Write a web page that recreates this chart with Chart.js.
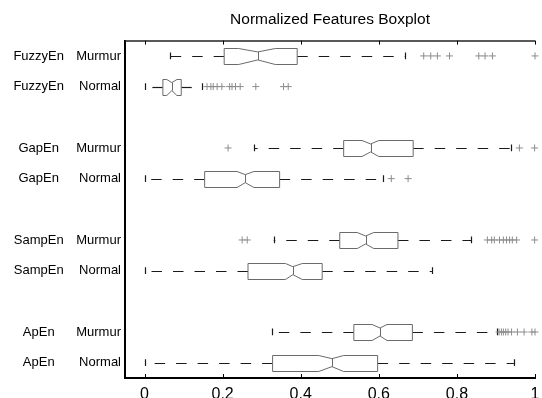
<!DOCTYPE html>
<html>
<head>
<meta charset="utf-8">
<script src="https://cdn.jsdelivr.net/npm/chart.js@4.4.0/dist/chart.umd.min.js"></script>
<style>
  html, body { margin: 0; padding: 0; background: #ffffff; }
  #wrap { width: 542px; height: 398px; }
</style>
</head>
<body>
<div id="wrap"><canvas id="c" width="542" height="398"></canvas></div>
<script>
// ---- data ----
const chartTitle = 'Normalized Features Boxplot';
const features = ['FuzzyEn', 'FuzzyEn', 'GapEn', 'GapEn', 'SampEn', 'SampEn', 'ApEn', 'ApEn'];
const classes = ['Murmur', 'Normal', 'Murmur', 'Normal', 'Murmur', 'Normal', 'Murmur', 'Normal'];
const rowPos = [1, 2, 4, 5, 7, 8, 10, 11];
const whiskerLow = [0.064, 0.0, 0.281, 0.0, 0.331, 0.0, 0.327, 0.0];
const q1 = [0.204, 0.047, 0.510, 0.154, 0.500, 0.265, 0.536, 0.328];
const median = [0.290, 0.070, 0.579, 0.258, 0.566, 0.380, 0.603, 0.480];
const q3 = [0.391, 0.094, 0.688, 0.346, 0.649, 0.455, 0.686, 0.597];
const whiskerHigh = [0.667, 0.147, 0.938, 0.612, 0.837, 0.736, 0.903, 0.946];
const notchLo = [0.241, 0.057, 0.557, 0.237, 0.545, 0.361, 0.583, 0.446];
const notchHi = [0.335, 0.083, 0.600, 0.280, 0.587, 0.404, 0.621, 0.510];
const outliersFuzzyMurmur = [0.715, 0.733, 0.750, 0.781, 0.856, 0.872, 0.891, 1.0];
const outliersFuzzyNormal = [0.160, 0.170, 0.176, 0.186, 0.198, 0.218, 0.224, 0.233, 0.245, 0.285, 0.356, 0.368];
const outliersGapMurmur = [0.214, 0.960, 0.999];
const outliersGapNormal = [0.632, 0.675];
const outliersSampMurmur = [0.250, 0.263, 0.878, 0.889, 0.896, 0.909, 0.919, 0.927, 0.935, 0.942, 0.953, 0.999];
const outliersSampNormal = [];
const outliersApMurmur = [0.908, 0.914, 0.919, 0.925, 0.931, 0.940, 0.955, 0.972, 0.992, 1.0];
const outliersApNormal = [];
const outliers = [outliersFuzzyMurmur, outliersFuzzyNormal, outliersGapMurmur, outliersGapNormal,
                  outliersSampMurmur, outliersSampNormal, outliersApMurmur, outliersApNormal];
const xTickValues = [0, 0.2, 0.4, 0.6, 0.8, 1];

// ---- styling ----
const FONT = "'Liberation Sans', Arial, Helvetica, sans-serif";
const BOX_COLOR = '#6a6a6a';
const WHISKER_COLOR = '#1a1a1a';
const OUTLIER_COLOR = '#8c8c8c';
const BOX_HALF = 0.26;   // in y units
const CAP_HALF = 0.11;

const outlierPoints = [];
outliers.forEach((arr, i) => arr.forEach(v => outlierPoints.push({ x: v, y: rowPos[i] })));

const boxPlugin = {
  id: 'boxes',
  beforeDatasetsDraw(chart) {
    const ctx = chart.ctx;
    const xs = chart.scales.x, ys = chart.scales.y;
    const X = v => xs.getPixelForValue(v);
    ctx.save();
    for (let i = 0; i < rowPos.length; i++) {
      const yc = ys.getPixelForValue(rowPos[i]);
      const h = Math.abs(ys.getPixelForValue(rowPos[i] + BOX_HALF) - yc);
      const hc = Math.abs(ys.getPixelForValue(rowPos[i] + CAP_HALF) - yc);
      const yr = Math.round(yc) + 0.5;
      // whiskers (dashed, starting at box edge)
      ctx.strokeStyle = WHISKER_COLOR;
      ctx.lineWidth = 1.2;
      ctx.setLineDash([10.5, 11]);
      ctx.beginPath();
      ctx.moveTo(X(q3[i]), yr); ctx.lineTo(X(whiskerHigh[i]), yr);
      ctx.stroke();
      ctx.beginPath();
      ctx.moveTo(X(q1[i]), yr); ctx.lineTo(X(whiskerLow[i]), yr);
      ctx.stroke();
      ctx.setLineDash([]);
      // caps
      ctx.beginPath();
      [whiskerLow[i], whiskerHigh[i]].forEach(v => {
        const px = Math.round(X(v)) + 0.5;
        ctx.moveTo(px, yc - hc); ctx.lineTo(px, yc + hc);
      });
      ctx.stroke();
      // notched box
      ctx.strokeStyle = BOX_COLOR;
      ctx.fillStyle = '#ffffff';
      ctx.lineWidth = 1;
      const top = Math.round(yc - h) + 0.5, bot = Math.round(yc + h) + 0.5;
      const ntop = yc - h / 2, nbot = yc + h / 2;
      ctx.beginPath();
      ctx.moveTo(X(q1[i]), top);
      ctx.lineTo(X(notchLo[i]), top);
      ctx.lineTo(X(median[i]), ntop);
      ctx.lineTo(X(notchHi[i]), top);
      ctx.lineTo(X(q3[i]), top);
      ctx.lineTo(X(q3[i]), bot);
      ctx.lineTo(X(notchHi[i]), bot);
      ctx.lineTo(X(median[i]), nbot);
      ctx.lineTo(X(notchLo[i]), bot);
      ctx.lineTo(X(q1[i]), bot);
      ctx.closePath();
      ctx.fill();
      ctx.stroke();
      // median
      ctx.beginPath();
      const mx = Math.round(X(median[i])) + 0.5;
      ctx.moveTo(mx, ntop); ctx.lineTo(mx, nbot);
      ctx.stroke();
    }
    ctx.restore();
  },
  afterDraw(chart) {
    const ctx = chart.ctx;
    const a = chart.chartArea;
    const xs = chart.scales.x;
    ctx.save();
    // top border
    ctx.strokeStyle = '#222';
    ctx.lineWidth = 1.5;
    ctx.beginPath();
    ctx.moveTo(a.left, a.top + 0.5); ctx.lineTo(a.right, a.top + 0.5);
    ctx.stroke();
    // inward ticks
    ctx.strokeStyle = '#000';
    ctx.lineWidth = 1;
    ctx.beginPath();
    xs.ticks.forEach(t => {
      const px = Math.round(xs.getPixelForValue(t.value)) + 0.5;
      ctx.moveTo(px, a.bottom); ctx.lineTo(px, a.bottom - 4);
      ctx.moveTo(px, a.top); ctx.lineTo(px, a.top + 4);
    });
    ctx.stroke();
    ctx.restore();
  }
};

new Chart(document.getElementById('c'), {
  type: 'scatter',
  data: {
    datasets: [{
      data: outlierPoints,
      pointStyle: 'cross',
      radius: 3.5,
      hoverRadius: 3.5,
      borderColor: OUTLIER_COLOR,
      backgroundColor: OUTLIER_COLOR,
      borderWidth: 1,
      clip: false,
      yAxisID: 'y'
    }]
  },
  options: {
    responsive: false,
    animation: false,
    events: [],
    layout: { padding: { left: 0, right: 7, top: 0, bottom: 0 } },
    plugins: {
      legend: { display: false },
      tooltip: { enabled: false },
      title: {
        display: true,
        text: chartTitle,
        fullSize: false,
        color: '#000',
        font: { family: FONT, size: 15.5, weight: 'normal' },
        padding: { top: 10, bottom: 12 }
      }
    },
    scales: {
      x: {
        type: 'linear',
        min: -0.05,
        max: 1.0,
        afterBuildTicks: s => { s.ticks = xTickValues.map(v => ({ value: v })); },
        afterFit: s => { s.height = 20; s.paddingLeft = 0; s.paddingRight = 0; },
        grid: { display: false, drawTicks: false },
        border: { display: true, color: '#000', width: 2 },
        ticks: {
          color: '#000',
          padding: 7,
          maxRotation: 0,
          font: { family: FONT, size: 16 },
          callback: v => String(v)
        }
      },
      y: {
        type: 'linear',
        position: 'left',
        weight: 0,
        reverse: true,
        min: 0.5,
        max: 11.5,
        afterBuildTicks: s => { s.ticks = rowPos.map(v => ({ value: v })); },
        afterFit: s => { s.width = 61; },
        grid: { display: false, drawTicks: false },
        border: { display: true, color: '#000', width: 2 },
        ticks: {
          color: '#000',
          padding: 4,
          font: { family: FONT, size: 13 },
          callback: v => classes[rowPos.indexOf(v)]
        }
      },
      y2: {
        type: 'linear',
        position: 'left',
        weight: 1,
        reverse: true,
        min: 0.5,
        max: 11.5,
        afterBuildTicks: s => { s.ticks = rowPos.map(v => ({ value: v })); },
        afterFit: s => { s.width = 64; },
        grid: { display: false, drawTicks: false },
        border: { display: false },
        ticks: {
          color: '#000',
          padding: 0,
          crossAlign: 'center',
          font: { family: FONT, size: 13 },
          callback: v => features[rowPos.indexOf(v)]
        }
      }
    }
  },
  plugins: [boxPlugin]
});
</script>
</body>
</html>
